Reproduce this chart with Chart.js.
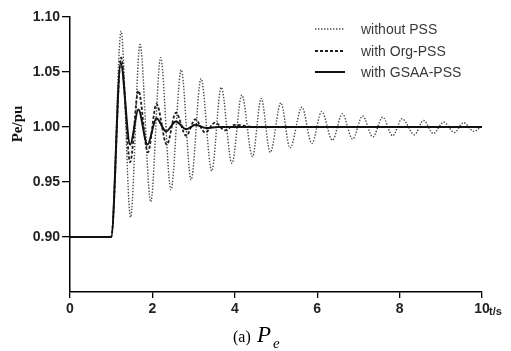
<!DOCTYPE html>
<html>
<head>
<meta charset="utf-8">
<script src="https://cdn.jsdelivr.net/npm/chart.js@4/dist/chart.umd.min.js"></script>
<style>
  html, body { margin: 0; padding: 0; background: #fff; }
  #wrap { width: 511px; height: 351px; position: relative; }
</style>
</head>
<body>
<div id="wrap"><canvas id="peChart"></canvas></div>
<script>
// time (s) and Pe (pu), extrema of each oscillation
const tWithout = [0, 1.0, 1.24, 1.47, 1.70, 1.96, 2.20, 2.45, 2.70, 2.94, 3.18, 3.44, 3.67, 3.93,
    4.17, 4.43, 4.64, 4.86, 5.12, 5.34, 5.63, 5.87, 6.11, 6.37, 6.61, 6.86, 7.10, 7.35,
    7.59, 7.83, 8.06, 8.36, 8.58, 8.82, 9.07, 9.33, 9.55, 9.80, 10.0];
const peWithout = [0.90, 0.90, 1.087, 0.918, 1.075, 0.932, 1.063, 0.943, 1.052, 0.952, 1.044, 0.960, 1.036, 0.967,
    1.029, 0.973, 1.026, 0.977, 1.022, 0.981, 1.018, 0.985, 1.014, 0.988, 1.012, 0.989, 1.010, 0.991,
    1.009, 0.992, 1.0075, 0.993, 1.006, 0.994, 1.0045, 0.995, 1.004, 0.996, 1.001];

const tOrg = [0, 1.0, 1.24, 1.46, 1.66, 1.89, 2.10, 2.35, 2.57, 2.82, 3.04, 3.28, 3.52, 3.76, 4.00, 4.50, 10.0];
const peOrg = [0.90, 0.90, 1.063, 0.968, 1.033, 0.977, 1.021, 0.984, 1.013, 0.992, 1.007, 0.995, 1.004, 0.997, 1.002, 1.000, 1.000];

const tGsaa = [0, 1.0, 1.23, 1.46, 1.66, 1.88, 2.10, 2.33, 2.57, 2.82, 3.05, 3.30, 3.60, 10.0];
const peGsaa = [0.90, 0.90, 1.058, 0.984, 1.016, 0.984, 1.008, 0.996, 1.005, 0.998, 1.002, 0.999, 1.000, 1.000];

const seriesNames = ['without PSS', 'with Org-PSS', 'with GSAA-PSS'];
const xTicks = [0, 2, 4, 6, 8, 10];
const yTicks = [0.90, 0.95, 1.00, 1.05, 1.10];

function toPoints(ts, vs) {
    return ts.map((t, i) => ({ x: t, y: vs[i] }));
}

// legend, axis names and caption drawn by hand
const decorPlugin = {
    id: 'decor',
    afterDraw(chart) {
        const ctx = chart.ctx;
        const area = chart.chartArea;
        ctx.save();

        // y axis name
        ctx.save();
        ctx.translate(18, 124);
        ctx.rotate(-Math.PI / 2);
        ctx.fillStyle = '#111';
        ctx.font = 'bold 15px "Liberation Serif", serif';
        ctx.textAlign = 'center';
        ctx.textBaseline = 'middle';
        ctx.fillText('Pe/pu', 0, 0);
        ctx.restore();

        // x axis unit
        ctx.fillStyle = '#222';
        ctx.font = 'bold 11px "Liberation Sans", Arial, sans-serif';
        ctx.textAlign = 'left';
        ctx.textBaseline = 'middle';
        ctx.fillText('t/s', area.right + 7, 312);

        // caption (a) Pe
        ctx.fillStyle = '#000';
        ctx.textBaseline = 'alphabetic';
        ctx.font = '16px "Liberation Serif", serif';
        ctx.fillText('(a)', 233, 342);
        ctx.font = 'italic 23px "Liberation Serif", serif';
        ctx.fillText('P', 257, 342);
        ctx.font = 'italic 15px "Liberation Serif", serif';
        ctx.fillText('e', 273, 348);

        // legend
        const rows = [29, 51, 72];
        chart.data.datasets.forEach((ds, i) => {
            ctx.beginPath();
            ctx.strokeStyle = ds.borderColor;
            ctx.lineWidth = ds.borderWidth;
            ctx.setLineDash(ds.borderDash || []);
            ctx.moveTo(315, rows[i]);
            ctx.lineTo(345, rows[i]);
            ctx.stroke();
            ctx.setLineDash([]);
            ctx.fillStyle = '#3a3a3a';
            ctx.font = '14px "Liberation Sans", Arial, sans-serif';
            ctx.textBaseline = 'middle';
            ctx.fillText(ds.label, 361, rows[i] + 1);
        });
        ctx.restore();
    }
};

const ctx = document.getElementById('peChart').getContext('2d');
new Chart(ctx, {
    type: 'line',
    data: {
        datasets: [{
            label: seriesNames[0],
            data: toPoints(tWithout, peWithout),
            borderColor: '#4a4a4a',
            borderWidth: 1.4,
            borderDash: [1.4, 1.6],
            order: 3
        }, {
            label: seriesNames[1],
            data: toPoints(tOrg, peOrg),
            borderColor: '#1e1e1e',
            borderWidth: 1.8,
            borderDash: [3, 2],
            order: 2
        }, {
            label: seriesNames[2],
            data: toPoints(tGsaa, peGsaa),
            borderColor: '#111',
            borderWidth: 2,
            order: 1
        }]
    },
    options: {
        responsive: true,
        maintainAspectRatio: false,
        animation: false,
        layout: {
            padding: { left: 0, right: 29, top: 17, bottom: 0 }
        },
        elements: {
            point: { radius: 0 },
            line: { cubicInterpolationMode: 'monotone', fill: false }
        },
        plugins: {
            legend: { display: false },
            tooltip: { enabled: false }
        },
        scales: {
            x: {
                type: 'linear',
                min: 0,
                max: 10,
                afterBuildTicks: (scale) => {
                    scale.ticks = xTicks.map(v => ({ value: v }));
                },
                afterFit: (scale) => { scale.height = 59; },
                ticks: {
                    color: '#222',
                    font: { family: '"Liberation Sans", Arial, sans-serif', size: 14, weight: 'bold' },
                    padding: 3,
                    maxRotation: 0,
                    callback: (v) => String(v)
                },
                grid: {
                    drawOnChartArea: false,
                    drawTicks: true,
                    tickLength: 6,
                    color: '#000',
                    lineWidth: 1.3
                },
                border: { display: true, color: '#000', width: 1.5 }
            },
            y: {
                type: 'linear',
                min: 0.85,
                max: 1.10,
                afterBuildTicks: (scale) => {
                    scale.ticks = yTicks.map(v => ({ value: v }));
                },
                afterFit: (scale) => { scale.width = 70; },
                ticks: {
                    color: '#222',
                    font: { family: '"Liberation Sans", Arial, sans-serif', size: 14, weight: 'bold' },
                    padding: 2,
                    callback: (v) => Number(v).toFixed(2)
                },
                grid: {
                    drawOnChartArea: false,
                    drawTicks: true,
                    tickLength: 8,
                    color: '#000',
                    lineWidth: 1.3
                },
                border: { display: true, color: '#000', width: 1.5 }
            }
        }
    },
    plugins: [decorPlugin]
});
</script>
</body>
</html>
